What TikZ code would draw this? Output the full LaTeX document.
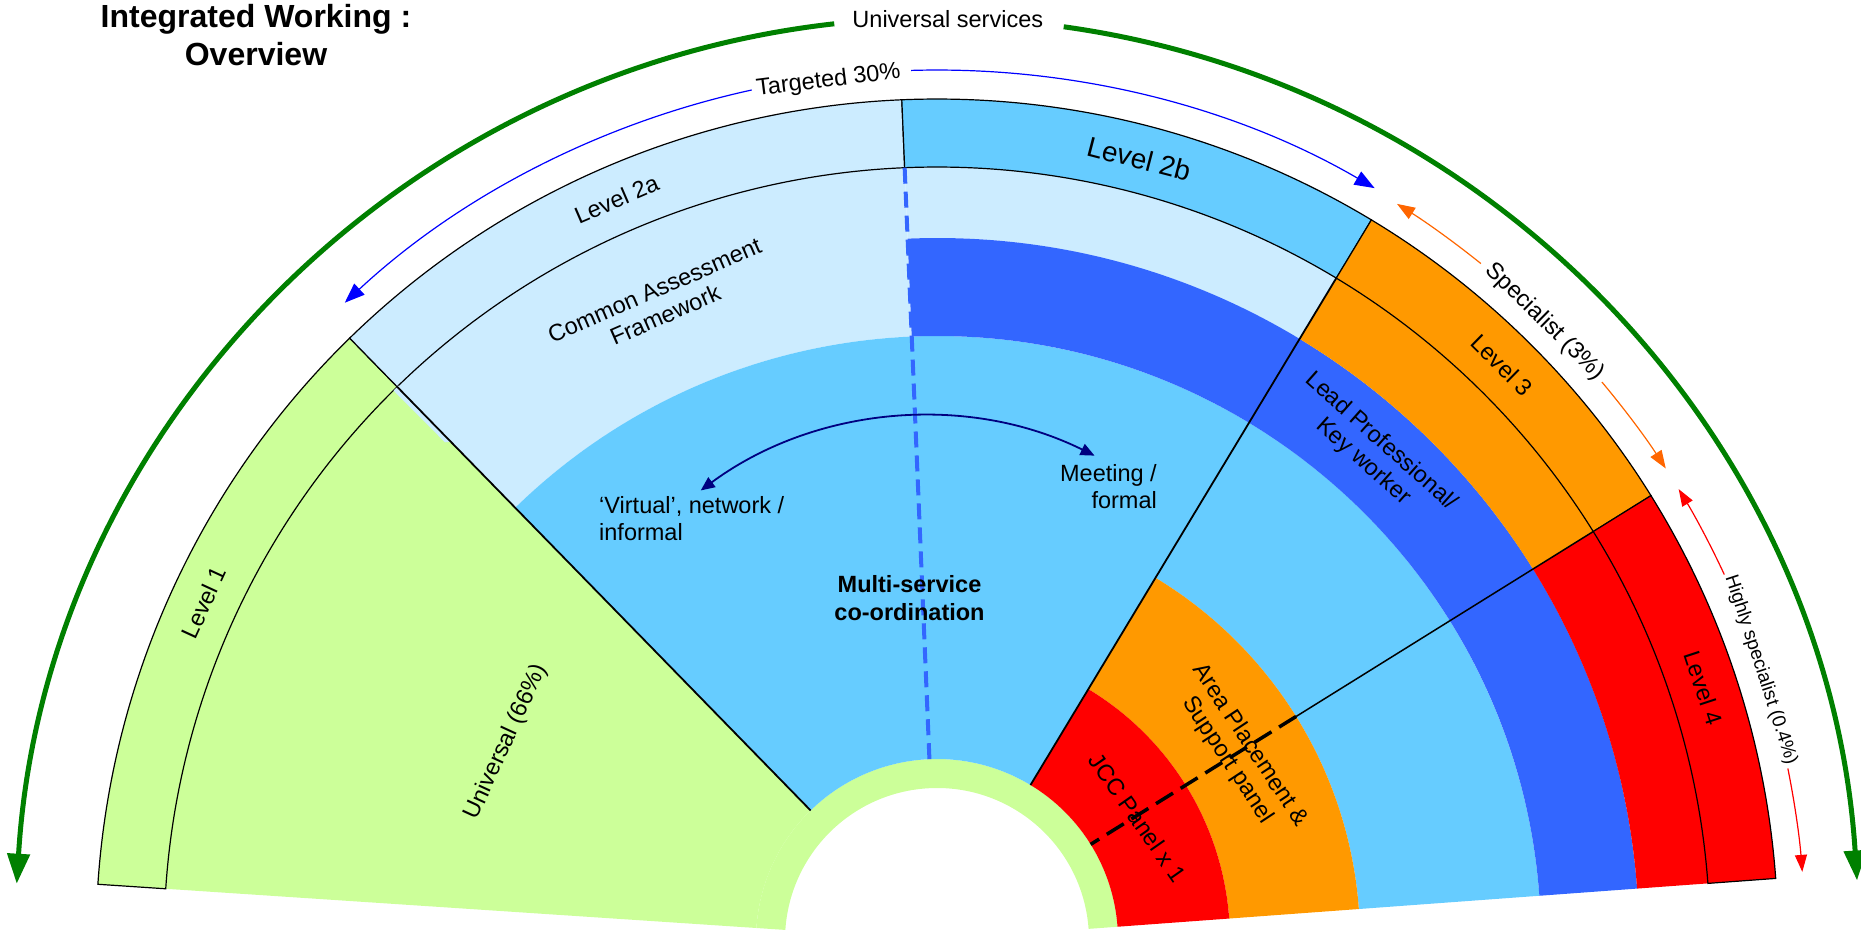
\documentclass[tikz,border=0pt]{standalone}
\usepackage{fontspec}
\setmainfont{Liberation Sans}
\usetikzlibrary{arrows.meta,calc}
\definecolor{cgreen}{HTML}{CCFF99}
\definecolor{clight}{HTML}{CCECFF}
\definecolor{cmid}{HTML}{66CCFF}
\definecolor{cdark}{HTML}{3366FF}
\definecolor{corange}{HTML}{FF9900}
\definecolor{cred}{HTML}{FF0000}
\definecolor{agreen}{HTML}{008000}
\definecolor{ablue}{HTML}{0000FF}
\definecolor{aorange}{HTML}{FF6600}
\definecolor{anavy}{HTML}{000080}
% options, start angle, end angle, inner radius, outer radius
\newcommand\fansect[5]{%
  \path[#1] (#2:#4) arc[start angle=#2, end angle=#3, radius=#4] -- (#3:#5) arc[start angle=#3, end angle=#2, radius=#5] -- cycle;}
\begin{document}
\begin{tikzpicture}[x=1pt,y=1pt,
  lbl/.style={font=\fontsize{23.5}{27}\selectfont, align=center, inner sep=0pt},
  biglbl/.style={font=\fontsize{28}{32}\selectfont, align=center, inner sep=0pt},
  smalllbl/.style={font=\fontsize{19}{22}\selectfont, align=center, inner sep=0pt},
  ringline/.style={draw=black, line width=1.2},
  radline/.style={black, line width=1.8},
  greenarrow/.style={agreen, line width=5, -{Triangle[length=30,width=22]}},
  bluearrow/.style={ablue, line width=1.2, -{Triangle[length=20,width=15]}},
  orangearrow/.style={aorange, line width=1.2, -{Triangle[length=18,width=13]}},
  redarrow/.style={cred, line width=1.2, -{Triangle[length=17,width=12]}},
  navyarrow/.style={anavy, line width=1.8, {Triangle[length=14,width=12]}-{Triangle[length=14,width=12]}}]
\useasboundingbox (0,0) rectangle (1861,932);
\clip (0,0) rectangle (1861,932);

\begin{scope}[shift={(937,-8)}]
  % coloured bands
  \fansect{fill=cgreen}{134.3}{176.2}{181}{773}
  \fansect{fill=cgreen}{4.2}{176.2}{152}{181}
  \fansect{fill=clight}{92.4}{134.3}{604}{773}
  \fansect{fill=clight}{58.9}{92.4}{702}{773}
  \fansect{fill=cmid}{58.9}{134.3}{181}{604}
  \fansect{fill=cmid}{4.2}{58.9}{423}{604}
  \fansect{fill=cdark}{4.2}{92.4}{604}{702}
  \fansect{fill=corange}{4.2}{58.9}{293}{423}
  \fansect{fill=cred}{4.2}{58.9}{181}{293}
  \fansect{fill=corange}{31.9}{58.9}{702}{773}
  \fansect{fill=cred}{4.2}{31.9}{702}{773}
  % outer level ring
  \fansect{fill=cgreen,ringline}{134.3}{176.2}{773}{841}
  \fansect{fill=clight,ringline}{92.4}{134.3}{773}{841}
  \fansect{fill=cmid,ringline}{58.9}{92.4}{773}{841}
  \fansect{fill=corange,ringline}{31.9}{58.9}{773}{841}
  \fansect{fill=cred,ringline}{4.2}{31.9}{773}{841}
\end{scope}

% small light-blue sliver beside the Level 1 / Level 2a divide
\fill[clight] (399,546.5) -- (393.5,541.5) -- (445,489.7) -- (453,490.5) -- cycle;

\begin{scope}[shift={(937,-8)}]
  % dividing lines
  \draw[radline] (134.3:773) -- (134.3:181);
  \draw[radline] (58.9:773) -- (58.9:181);
  \draw[black, line width=1.5] (31.9:773) -- (31.9:423);
  \draw[black, line width=3.5, dash pattern=on 20 off 9] (31.9:423) -- (31.9:181);
  \draw[cdark, line width=4, dash pattern=on 16 off 8] (92.4:773) -- (92.4:181);

  % labels in the fan
  \node[lbl, rotate=65.3] (l1) at (155.3:807) {Level 1};
  \node[lbl, rotate=23.4] (l2a) at (113.4:807) {Level 2a};
  \node[biglbl, rotate=-14.5] (l2b) at (75.5:807) {Level 2b};
  \node[lbl, rotate=-44.5] (l3) at (45.5:806) {Level 3};
  \node[lbl, rotate=-71.8] (l4) at (18.2:807) {Level 4};
  \node[lbl, rotate=65.3] (univ) at (155.3:474) {Universal (66\%)};
  \node[lbl, rotate=23.5] (caf) at (113.5:695) {Common Assessment\\Framework};
  \node[lbl, rotate=-41.7] (lead) at (48.3:654) {Lead Professional/\\Key worker};
  \node[lbl, rotate=-56.5] (area) at (31.8:355) {Area Placement \&\\Support panel};
  \node[lbl, rotate=-55] (jcc) at (31.4:235) {JCC Panel x 1};

  % outer arrow labels
  \node[lbl, rotate=7.2] (targ) at (97.2:866) {Targeted 30\%};
  \node[lbl, rotate=-44.5] (spec) at (45.5:867) {Specialist (3\%)};
  \node[smalllbl, rotate=-71.85] (hspec) at (18.15:867) {Highly specialist (0.4\%)};

  % outer arrows
  \coordinate (g1) at (96.4:922);
  \coordinate (g2) at (82.1:922);
  \draw[greenarrow] (g1) arc[start angle=96.4, end angle=176.5, radius=922];
  \draw[greenarrow] (g2) arc[start angle=82.1, end angle=3.7, radius=922];
  \coordinate (b1) at (102.3:870);
  \coordinate (b2) at (91.7:870);
  \draw[bluearrow] (b1) arc[start angle=102.3, end angle=132.9, radius=870];
  \draw[bluearrow] (b2) arc[start angle=91.7, end angle=59.8, radius=870];
  \coordinate (o1) at (51.2:868);
  \coordinate (o2) at (40.0:868);
  \draw[orangearrow] (o1) arc[start angle=51.2, end angle=58.0, radius=868];
  \draw[orangearrow] (o2) arc[start angle=40.0, end angle=32.9, radius=868];
  \coordinate (r1) at (24.9:868);
  \coordinate (r2) at (11.4:868);
  \draw[redarrow] (r1) arc[start angle=24.9, end angle=31.3, radius=868];
  \draw[redarrow] (r2) arc[start angle=11.4, end angle=4.5, radius=868];
\end{scope}

% navy double arrow
\coordinate (nv1) at ($(926.2,135.7)+(126.4:380)$);
\draw[navyarrow] (nv1) arc[start angle=126.4, end angle=63.7, radius=380];

% free texts
\node[font=\fontsize{23.5}{28}\selectfont\bfseries, align=center, inner sep=0pt] (msc) at (909.5,334) {Multi-service\\co-ordination};
\node[lbl, align=left, anchor=west] (virt) at (599,413) {‘Virtual’, network /\\informal};
\node[lbl, align=right, anchor=east] (meet) at (1157,445.5) {Meeting /\\formal};
\node[lbl] (us) at (947.8,913) {Universal services};
\node[font=\fontsize{32}{38.5}\selectfont\bfseries, align=center, inner sep=0pt, anchor=north] (title) at (256,928) {Integrated Working :\\Overview};
\end{tikzpicture}
\end{document}
